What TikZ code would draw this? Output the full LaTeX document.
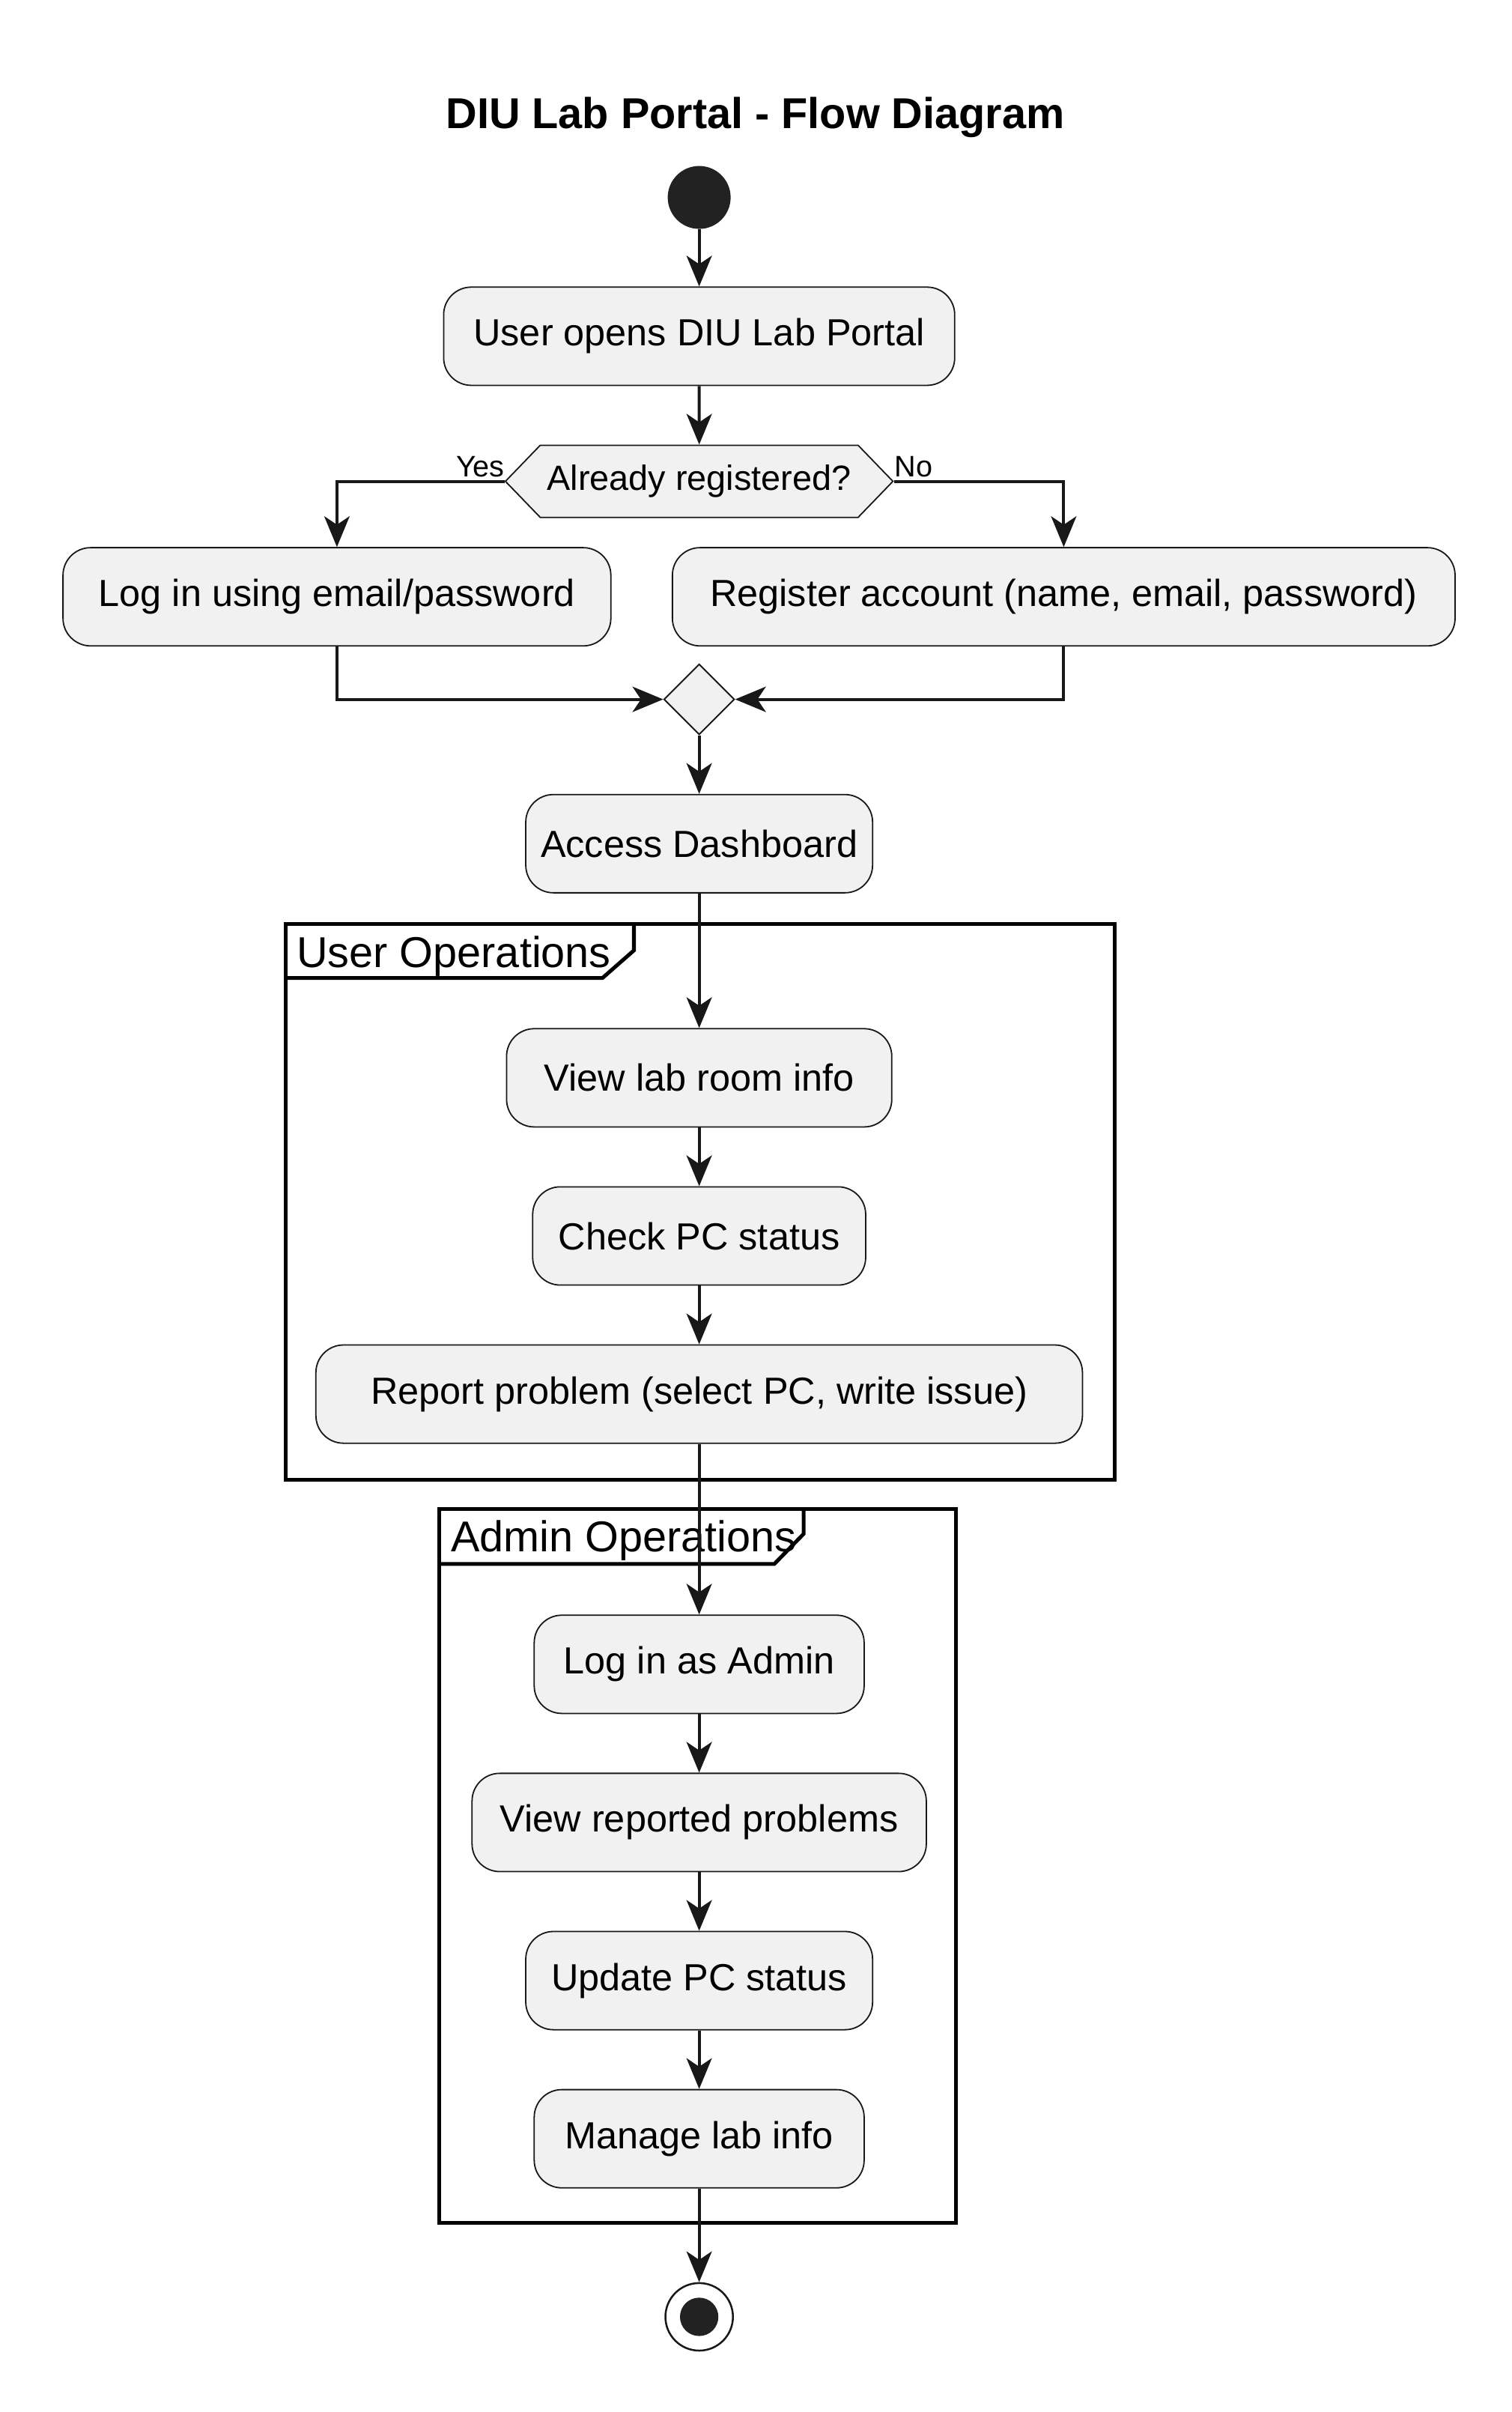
\documentclass[tikz,border=0pt]{standalone}
\usepackage{fontspec}
\setmainfont{Liberation Sans}
\usetikzlibrary{arrows.meta,shapes.geometric,shapes.symbols}

\definecolor{boxfill}{HTML}{F1F1F1}
\definecolor{inkline}{HTML}{181818}
\definecolor{dotfill}{HTML}{222222}

\def\midx{455.5}
\def\boxh{1.28cm}

\begin{document}
\begin{tikzpicture}[x=0.02cm,y=-0.02cm,
    actbox/.style={draw=inkline, line width=0.5pt, fill=boxfill, rounded corners=0.36cm,
        minimum height=\boxh, inner sep=0pt, font=\fontsize{14}{16}\selectfont},
    choice/.style={signal, signal to=west and east, signal pointer angle=92,
        draw=inkline, line width=0.5pt, fill=boxfill, minimum width=5.05cm,
        minimum height=0.94cm, inner sep=0pt, font=\fontsize{13}{15}\selectfont},
    mergebox/.style={diamond, draw=inkline, line width=0.5pt, fill=boxfill,
        minimum width=0.92cm, minimum height=0.92cm, inner sep=0pt},
    startdot/.style={circle, fill=dotfill, minimum size=0.82cm, inner sep=0pt},
    stopdot/.style={circle, draw=inkline, line width=0.7pt, fill=white,
        minimum size=0.88cm, inner sep=0pt},
    flow/.style={draw=inkline, line width=1.1pt,
        -{Stealth[length=0.4cm,width=0.33cm,inset=0.11cm]}},
    groupframe/.style={draw=black, line width=1.4pt},
    grouplabel/.style={inner sep=0pt, font=\fontsize{16}{18}\selectfont},
    branchlabel/.style={inner sep=0pt, font=\fontsize{11}{13}\selectfont}]

    \useasboundingbox (0,0) rectangle (985,1571);

    % title
    \node[font=\bfseries\fontsize{16}{18}\selectfont] (title) at (492,76.7) {DIU Lab Portal - Flow Diagram};

    % user operations group
    \draw[groupframe] (186,602) rectangle (726,964);
    \draw[groupframe] (186,637) -- (392.5,637) -- (413,619) -- (413,602);
    \node[grouplabel, anchor=base west] (usergrp) at (193,630) {User Operations};

    % admin operations group
    \draw[groupframe] (286,983) rectangle (623,1448);
    \draw[groupframe] (286,1018.6) -- (504.5,1018.6) -- (523.6,999) -- (523.6,983);
    \node[grouplabel, anchor=base west] (admingrp) at (293.5,1010.6) {Admin Operations};

    % start and login choice
    \node[startdot] (start) at (\midx,128.6) {};
    \node[actbox, minimum width=6.66cm] (open) at (\midx,219) {User opens DIU Lab Portal};
    \node[choice] (registered) at (\midx,313.5) {Already registered?};
    \node[branchlabel, anchor=base east] (yes) at (329,310.6) {Yes};
    \node[branchlabel, anchor=base west] (no) at (582.5,310.6) {No};
    \node[actbox, minimum width=7.14cm] (login) at (219.5,388.7) {Log in using email/password};
    \node[actbox, minimum width=10.2cm] (register) at (693,388.7) {Register account (name, email, password)};
    \node[mergebox] (join) at (\midx,455.5) {};
    \node[actbox, minimum width=4.52cm] (access) at (\midx,549.5) {Access Dashboard};

    % user steps
    \node[actbox, minimum width=5.02cm] (labinfo) at (\midx,702) {View lab room info};
    \node[actbox, minimum width=4.34cm] (pcstatus) at (\midx,805) {Check PC status};
    \node[actbox, minimum width=9.99cm] (report) at (\midx,908) {Report problem (select PC, write issue)};

    % admin steps
    \node[actbox, minimum width=4.3cm] (adminlogin) at (\midx,1084) {Log in as Admin};
    \node[actbox, minimum width=5.92cm] (reported) at (\midx,1187) {View reported problems};
    \node[actbox, minimum width=4.52cm] (update) at (\midx,1290) {Update PC status};
    \node[actbox, minimum width=4.3cm] (manage) at (\midx,1393) {Manage lab info};

    % end
    \node[stopdot] (stop) at (\midx,1509) {};
    \fill[dotfill] (stop.center) circle (0.25cm);

    % connectors
    \draw[flow] (start) -- (open);
    \draw[flow] (open) -- (registered);
    \draw[flow] (registered.west) -| (login.north);
    \draw[flow] (registered.east) -| (register.north);
    \draw[flow] (login.south) |- (join.west);
    \draw[flow] (register.south) |- (join.east);
    \draw[flow] (join) -- (access);
    \draw[flow] (access) -- (labinfo);
    \draw[flow] (labinfo) -- (pcstatus);
    \draw[flow] (pcstatus) -- (report);
    \draw[flow] (report) -- (adminlogin);
    \draw[flow] (adminlogin) -- (reported);
    \draw[flow] (reported) -- (update);
    \draw[flow] (update) -- (manage);
    \draw[flow] (manage) -- (stop);
\end{tikzpicture}
\end{document}
